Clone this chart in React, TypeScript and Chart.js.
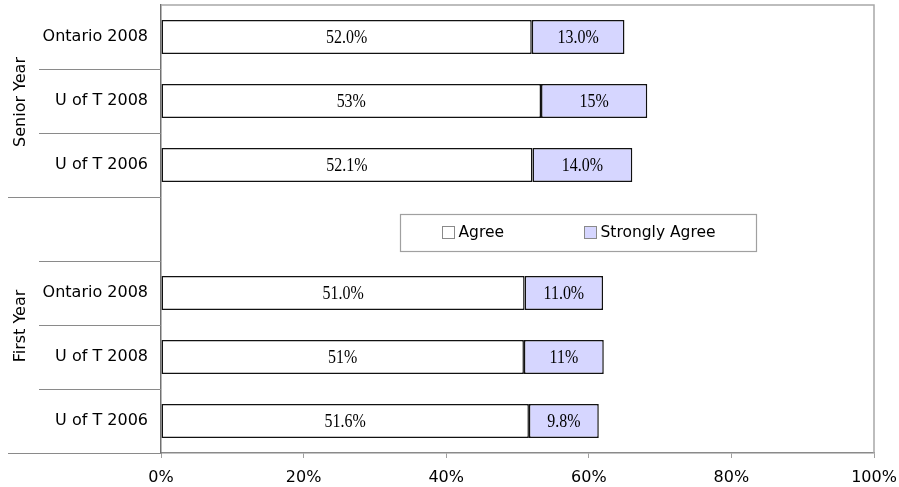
import { useEffect, useRef } from 'react';
import { Chart, registerables } from 'chart.js';

Chart.register(...registerables);

const categories = ['Ontario 2008', 'U of T 2008', 'U of T 2006', '', 'Ontario 2008', 'U of T 2008', 'U of T 2006'];
const groupNames = ['Senior Year', 'First Year'];
const groupStart = [0, 3];
const groupEnd = [2, 6];
const agreeValues = [52.0, 53.3, 52.1, null, 51.0, 50.9, 51.6];
const stronglyValues = [13.0, 14.9, 14.0, null, 11.0, 11.2, 9.8];
const agreeLabels = ['52.0%', '53%', '52.1%', '', '51.0%', '51%', '51.6%'];
const stronglyLabels = ['13.0%', '15%', '14.0%', '', '11.0%', '11%', '9.8%'];
const seriesNames = ['Agree', 'Strongly Agree'];
const seriesColors = ['#ffffff', '#d6d6ff'];
const xMin = 0;
const xMax = 100;
const xStep = 20;

const SANS = '"DejaVu Sans", sans-serif';
const SERIF = '"Liberation Serif", serif';

const decorPlugin = {
  id: 'decor',
  afterDatasetsDraw(chart: any) {
    const ctx = chart.ctx;
    const labelSets = [agreeLabels, stronglyLabels];
    ctx.save();
    ctx.font = `19px ${SERIF}`;
    ctx.fillStyle = '#000';
    ctx.textAlign = 'center';
    ctx.textBaseline = 'middle';
    chart.data.datasets.forEach((_: any, di: number) => {
      const meta = chart.getDatasetMeta(di);
      meta.data.forEach((el: any, i: number) => {
        const t = labelSets[di][i];
        if (!t) return;
        const cx = (el.x + el.base) / 2;
        ctx.save();
        ctx.translate(cx, el.y + 1);
        ctx.scale(0.84, 1);
        ctx.fillText(t, 0, 0);
        ctx.restore();
      });
    });
    ctx.restore();
  },
  afterDraw(chart: any) {
    const ctx = chart.ctx;
    const area = chart.chartArea;
    const ys = chart.scales.y;
    const xs = chart.scales.x;
    ctx.save();
    // plot border top & right
    ctx.strokeStyle = '#a8a8a8';
    ctx.lineWidth = 1.5;
    ctx.beginPath();
    ctx.moveTo(area.left, area.top);
    ctx.lineTo(area.right, area.top);
    ctx.lineTo(area.right, area.bottom);
    ctx.stroke();

    // category divider lines in the axis area
    ctx.strokeStyle = '#8a8a8a';
    ctx.lineWidth = 1;
    const n = categories.length;
    for (let i = 0; i < n; i++) {
      const y =
        i < n - 1
          ? (ys.getPixelForValue(i) + ys.getPixelForValue(i + 1)) / 2
          : area.bottom;
      const isGroupEdge = groupEnd.includes(i);
      const x0 = isGroupEdge ? 8 : 39;
      const yy = Math.round(y) + 0.5;
      ctx.beginPath();
      ctx.moveTo(x0, yy);
      ctx.lineTo(area.left, yy);
      ctx.stroke();
    }

    // group labels
    ctx.fillStyle = '#000';
    ctx.font = `16px ${SANS}`;
    ctx.textAlign = 'center';
    ctx.textBaseline = 'middle';
    groupNames.forEach((g, gi) => {
      const s = groupStart[gi];
      const e = groupEnd[gi];
      const top = s === 0 ? area.top : (ys.getPixelForValue(s - 1) + ys.getPixelForValue(s)) / 2;
      const bot = e === n - 1 ? area.bottom : (ys.getPixelForValue(e) + ys.getPixelForValue(e + 1)) / 2;
      ctx.save();
      ctx.translate(21, (top + bot) / 2 + 1);
      ctx.rotate(-Math.PI / 2);
      ctx.fillText(g, 0, 0);
      ctx.restore();
    });

    // legend
    const gapIndex = categories.indexOf('');
    const cy = ys.getPixelForValue(gapIndex) + 3;
    const lx0 = xs.getPixelForValue(33.5);
    const lx1 = xs.getPixelForValue(83.4);
    const lh = 37;
    ctx.fillStyle = '#fff';
    ctx.fillRect(lx0, cy - lh / 2, lx1 - lx0, lh);
    ctx.strokeStyle = '#a0a0a0';
    ctx.lineWidth = 1.2;
    ctx.strokeRect(Math.round(lx0) + 0.5, Math.round(cy - lh / 2) + 0.5, Math.round(lx1 - lx0), lh);
    const offsets = [42, 184];
    ctx.font = `15.5px ${SANS}`;
    ctx.textAlign = 'left';
    ctx.textBaseline = 'middle';
    seriesNames.forEach((name, i) => {
      const sx = Math.round(lx0 + offsets[i]) + 0.5;
      const sy = Math.round(cy - 6) + 0.5;
      ctx.fillStyle = seriesColors[i];
      ctx.fillRect(sx, sy, 12, 12);
      ctx.strokeStyle = '#8a8a8a';
      ctx.lineWidth = 1;
      ctx.strokeRect(sx, sy, 12, 12);
      ctx.fillStyle = '#000';
      ctx.fillText(name, sx + 16, cy + 1);
    });
    ctx.restore();
  },
};

export default function App() {
  const ref = useRef<HTMLCanvasElement | null>(null);
  useEffect(() => {
    if (!ref.current) return;
    const chart = new Chart(ref.current, {
      type: 'bar',
      data: {
        labels: categories,
        datasets: [
          {
            label: seriesNames[0],
            data: agreeValues as any,
            backgroundColor: seriesColors[0],
            borderColor: '#111',
            borderWidth: 1.5,
            borderSkipped: false,
          },
          {
            label: seriesNames[1],
            data: stronglyValues as any,
            backgroundColor: seriesColors[1],
            borderColor: '#111',
            borderWidth: 1.5,
            borderSkipped: false,
          },
        ],
      },
      options: {
        indexAxis: 'y',
        responsive: false,
        animation: false,
        categoryPercentage: 1,
        barPercentage: 0.53,
        layout: { padding: { top: 5, right: 25, left: 0, bottom: 0 } },
        plugins: {
          legend: { display: false },
          tooltip: { enabled: false },
          title: { display: false },
        },
        scales: {
          x: {
            stacked: true,
            min: xMin,
            max: xMax,
            ticks: {
              stepSize: xStep,
              callback: (v: any) => `${v}%`,
              color: '#000',
              font: { family: SANS, size: 16 },
              padding: 10,
              maxRotation: 0,
            },
            grid: {
              drawOnChartArea: false,
              drawTicks: true,
              tickLength: 5,
              color: '#a0a0a0',
            },
            border: { display: true, color: '#8a8a8a', width: 1.5 },
            afterFit: (s: any) => {
              s.height = 34;
              s.paddingLeft = 0;
              s.paddingRight = 0;
            },
          },
          y: {
            stacked: true,
            ticks: {
              color: '#000',
              font: { family: SANS, size: 16, lineHeight: 1.45 },
              padding: 13,
            },
            grid: { display: false, drawTicks: false },
            border: { display: true, color: '#707070', width: 1.5 },
            afterFit: (s: any) => {
              s.width = 161;
              s.paddingTop = 0;
              s.paddingBottom = 0;
            },
          },
        },
      },
      plugins: [decorPlugin],
    });
    return () => chart.destroy();
  }, []);
  return (
    <div style={{ position: 'fixed', left: 0, top: 0, width: 899, height: 487, background: '#fff' }}>
      <canvas ref={ref} width={899} height={487} />
    </div>
  );
}
